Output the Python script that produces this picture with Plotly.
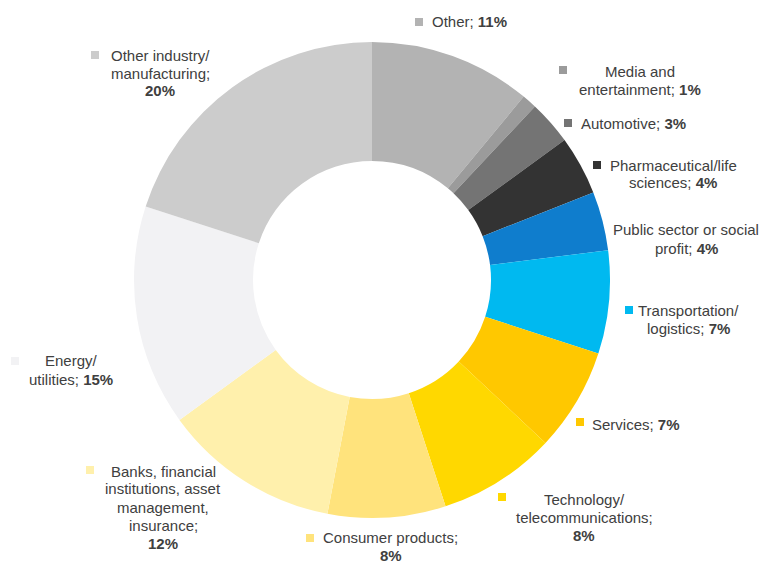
import plotly.graph_objects as go

# Share of respondents by sector (clockwise from 12 o'clock)
sectors = [
    "Other",
    "Media and entertainment",
    "Automotive",
    "Pharmaceutical/life sciences",
    "Public sector or social profit",
    "Transportation/logistics",
    "Services",
    "Technology/telecommunications",
    "Consumer products",
    "Banks, financial institutions, asset management, insurance",
    "Energy/utilities",
    "Other industry/manufacturing",
]
shares = [11, 1, 3, 4, 4, 7, 7, 8, 8, 12, 15, 20]

# Label text split into lines; the last piece is the value and is shown in bold
label_lines = [
    ["Other; {v}"],
    ["Media and", "entertainment; {v}"],
    ["Automotive; {v}"],
    ["Pharmaceutical/life", "sciences; {v}"],
    ["Public sector or social", "profit; {v}"],
    ["Transportation/", "logistics; {v}"],
    ["Services; {v}"],
    ["Technology/", "telecommunications;", "{v}"],
    ["Consumer products;", "{v}"],
    ["Banks, financial", "institutions, asset", "management,", "insurance;", "{v}"],
    ["Energy/", "utilities; {v}"],
    ["Other industry/", "manufacturing;", "{v}"],
]

colors = [
    "#b3b3b3", "#9b9b9b", "#747474", "#333333", "#0f7dcd", "#00b9f0",
    "#ffc800", "#ffd800", "#ffe37c", "#fff0ac", "#f2f2f4", "#cccccc",
]

# Layout: canvas size, donut box and label placement (pixels)
W, H = 765, 565
CX, CY, R = 372, 280, 238
label_center = [
    (469, 22), (640, 80), (633, 124), (673, 174), (686, 239), (688, 319),
    (636, 424), (584, 517), (391, 546), (163, 507), (71, 370), (160, 73),
]
marker_pos = [
    (419, 22), (563, 70), (568, 123), (597, 165), None, (629, 310),
    (580, 422), (502, 497), (310, 538), (90, 470), (15, 361), (95, 55),
]
LINE_H = 18
TEXT_COLOR = "#404040"
FONT = "Liberation Sans, Arial, sans-serif"


def px(x):
    return x / W


def py(y):
    return 1 - y / H


fig = go.Figure(
    go.Pie(
        labels=sectors,
        values=shares,
        sort=False,
        direction="clockwise",
        rotation=0,
        hole=0.5,
        marker=dict(colors=colors, line=dict(width=0)),
        textinfo="none",
        hoverinfo="label+percent",
        domain=dict(x=[px(CX - R), px(CX + R)], y=[py(CY + R), py(CY - R)]),
    )
)

annotations = []
shapes = []
for lines, v, (lx, ly), mpos, col in zip(label_lines, shares, label_center, marker_pos, colors):
    n = len(lines)
    for i, line in enumerate(lines):
        txt = line.replace("{v}", f"<b>{v}%</b>")
        y = ly + (i - (n - 1) / 2) * LINE_H
        annotations.append(
            dict(
                x=px(lx), y=py(y), xref="paper", yref="paper",
                text=txt, showarrow=False, xanchor="center", yanchor="middle",
                font=dict(family=FONT, size=15, color=TEXT_COLOR),
            )
        )
    if mpos is not None:
        mx, my = mpos
        s = 4
        shapes.append(
            dict(
                type="rect", xref="paper", yref="paper",
                x0=px(mx - s), x1=px(mx + s), y0=py(my + s), y1=py(my - s),
                fillcolor=col, line=dict(width=0),
            )
        )

fig.update_layout(
    width=W,
    height=H,
    margin=dict(l=0, r=0, t=0, b=0),
    paper_bgcolor="white",
    plot_bgcolor="white",
    showlegend=False,
    annotations=annotations,
    shapes=shapes,
)

fig.write_html("out.html")
